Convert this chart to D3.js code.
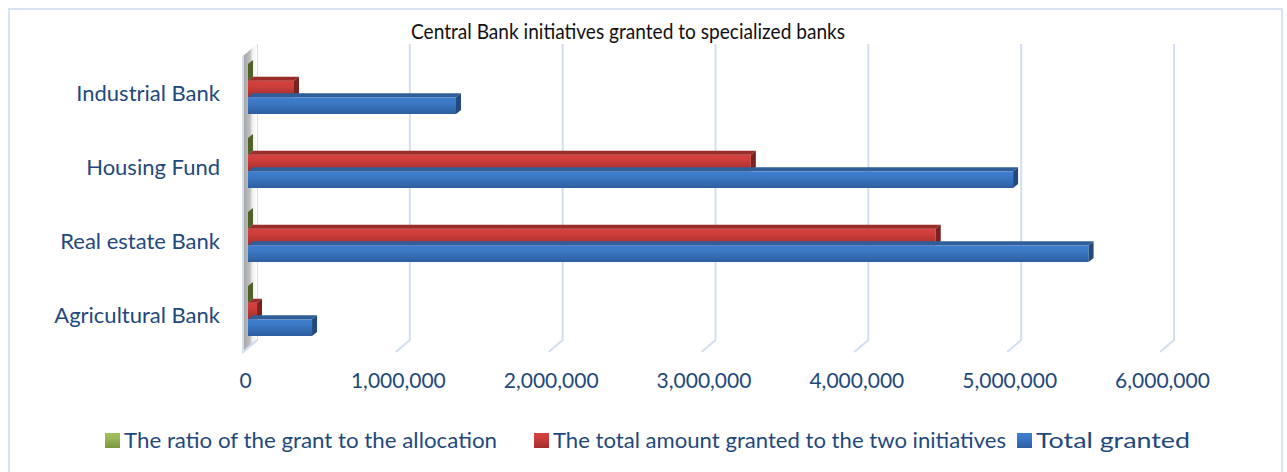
<!DOCTYPE html>
<html>
<head>
<meta charset="utf-8">
<script src="https://cdn.jsdelivr.net/npm/d3@7"></script>
<style>
body { margin: 0; background: #fff; }
svg { display: block; }
</style>
</head>
<body>
<div id="chart"></div>
<script>
// chart data
const title = "Central Bank initiatives granted to specialized banks";
const categories = ["Industrial Bank", "Housing Fund", "Real estate Bank", "Agricultural Bank"];
const seriesNames = ["The ratio of the grant to the allocation", "The total amount granted to the two initiatives", "Total granted"];
const ratioValues = [0.6, 0.65, 0.8, 0.15];
const twoInitiativesValues = [301000, 3290000, 4500000, 59000];
const totalGrantedValues = [1361000, 5006000, 5500000, 419000];
const xTicks = [0, 1000000, 2000000, 3000000, 4000000, 5000000, 6000000];

const width = 1287, height = 472;
const textColor = "#1f497d";
const font = "Lato, 'Open Sans', sans-serif";

// colours per series: front gradient, top face, end face
const styles = [
    { front: ["#9fbf5c", "#7a9640"], top: "#6e8c34", end: "#4f6228" },
    { front: ["#d6423f", "#a22d2c"], top: "#9a2c2a", end: "#7a2220" },
    { front: ["#3f7fcf", "#2d5e9f"], top: "#2f5e98", end: "#24497b" }
];

const seriesData = [ratioValues, twoInitiativesValues, totalGrantedValues];

const svg = d3.select("#chart")
    .append("svg")
    .attr("width", width)
    .attr("height", height);

const defs = svg.append("defs");
styles.forEach((s, i) => {
    const g = defs.append("linearGradient")
        .attr("id", "grad" + i)
        .attr("x1", 0).attr("y1", 0).attr("x2", 0).attr("y2", 1);
    g.append("stop").attr("offset", "0%").attr("stop-color", s.front[0]);
    g.append("stop").attr("offset", "35%").attr("stop-color", d3.interpolateRgb(s.front[0], s.front[1])(0.2));
    g.append("stop").attr("offset", "100%").attr("stop-color", s.front[1]);
});
const wallGrad = defs.append("linearGradient")
    .attr("id", "wallGrad")
    .attr("x1", 0).attr("y1", 0).attr("x2", 1).attr("y2", 0);
wallGrad.append("stop").attr("offset", "0%").attr("stop-color", "#a3a3a3");
wallGrad.append("stop").attr("offset", "50%").attr("stop-color", "#c0c0c0");
wallGrad.append("stop").attr("offset", "68%").attr("stop-color", "#f0f0f0");
wallGrad.append("stop").attr("offset", "100%").attr("stop-color", "#ffffff");

// chart border
svg.append("rect")
    .attr("x", 9).attr("y", 9)
    .attr("width", 1273).attr("height", 475)
    .attr("fill", "none")
    .attr("stroke", "#d7e2f2")
    .attr("stroke-width", 2);

// scales, front plane of the 3D box
const xScale = d3.scaleLinear().domain([0, 6000000]).range([243, 1160]);
const yScale = d3.scaleBand()
    .domain(categories)
    .range([56, 352])
    .paddingInner(0.324)
    .paddingOuter(0.162);
const ySeries = d3.scaleBand()
    .domain(d3.range(seriesNames.length))
    .range([0, yScale.bandwidth()]);

const depth = { dx: 14, dy: -12 };   // back wall offset
const barOff = { dx: 5, dy: -4 };    // bar front face offset
const barDepth = { dx: 5, dy: -4 };  // bar thickness

// gridlines on the back wall, with a foot on the floor
const grid = svg.append("g");
xTicks.forEach(t => {
    const xb = xScale(t) + depth.dx;
    grid.append("path")
        .attr("d", `M${xb},${56 + depth.dy}V${352 + depth.dy}L${xScale(t)},352`)
        .attr("fill", "none")
        .attr("stroke", "#d3def0")
        .attr("stroke-width", 2);
});

// side wall
svg.append("path")
    .attr("d", `M${xScale(0)},56L${xScale(0) + depth.dx},${56 + depth.dy}V${352 + depth.dy}L${xScale(0)},352Z`)
    .attr("fill", "url(#wallGrad)");
svg.append("path")
    .attr("d", `M${xScale(0)},56V352L${xScale(0) + depth.dx},${352 + depth.dy}`)
    .attr("fill", "none")
    .attr("stroke", "#d3def0")
    .attr("stroke-width", 2);

// bars, drawn top to bottom so lower faces overlap
const bars = svg.append("g");
categories.forEach((cat, ci) => {
    seriesData.forEach((vals, si) => {
        const x0 = xScale(0) + barOff.dx;
        const x1 = xScale(vals[ci]) + barOff.dx;
        const y0 = yScale(cat) + ySeries(si) + barOff.dy;
        const y1 = y0 + ySeries.bandwidth();
        const dx = barDepth.dx, dy = barDepth.dy;
        const st = styles[si];
        bars.append("rect")
            .attr("x", x0).attr("y", y0)
            .attr("width", Math.max(0, x1 - x0))
            .attr("height", y1 - y0)
            .attr("fill", `url(#grad${si})`);
        bars.append("path")
            .attr("d", `M${x0},${y0}L${x0 + dx},${y0 + dy}L${x1 + dx},${y0 + dy}L${x1},${y0}Z`)
            .attr("fill", st.top);
        bars.append("path")
            .attr("d", `M${x1},${y0}L${x1 + dx},${y0 + dy}L${x1 + dx},${y1 + dy}L${x1},${y1}Z`)
            .attr("fill", st.end);
    });
});

// value axis labels
const xAxis = d3.axisBottom(xScale)
    .tickValues(xTicks)
    .tickSize(0)
    .tickPadding(0)
    .tickFormat(d3.format(","));
const xAxisG = svg.append("g")
    .attr("transform", "translate(2,373)")
    .call(xAxis);
xAxisG.select(".domain").remove();
xAxisG.selectAll("text")
    .attr("dy", "0.71em")
    .attr("fill", textColor)
    .style("font-family", font)
    .style("font-size", "21px");

// category labels
svg.append("g")
    .selectAll("text")
    .data(categories)
    .join("text")
    .attr("x", 220)
    .attr("y", d => yScale(d) + yScale.bandwidth() / 2)
    .attr("dy", "0.35em")
    .attr("text-anchor", "end")
    .attr("fill", textColor)
    .style("font-family", font)
    .style("font-size", "22px")
    .text(d => d);

// title
svg.append("text")
    .attr("x", 628)
    .attr("y", 39)
    .attr("text-anchor", "middle")
    .attr("textLength", 434)
    .attr("lengthAdjust", "spacingAndGlyphs")
    .attr("fill", "#111")
    .style("font-family", font)
    .style("font-size", "22px")
    .text(title);

// legend
const legendX = [105, 534, 1017];
const legendW = [373, 453, 154];
const legend = svg.append("g");
seriesNames.forEach((name, i) => {
    legend.append("rect")
        .attr("x", legendX[i]).attr("y", 433)
        .attr("width", 15).attr("height", 15)
        .attr("fill", `url(#grad${i})`);
    legend.append("text")
        .attr("x", legendX[i] + 19)
        .attr("y", 448)
        .attr("textLength", legendW[i])
        .attr("lengthAdjust", "spacingAndGlyphs")
        .attr("fill", textColor)
        .style("font-family", font)
        .style("font-size", "22px")
        .text(name);
});
</script>
</body>
</html>
